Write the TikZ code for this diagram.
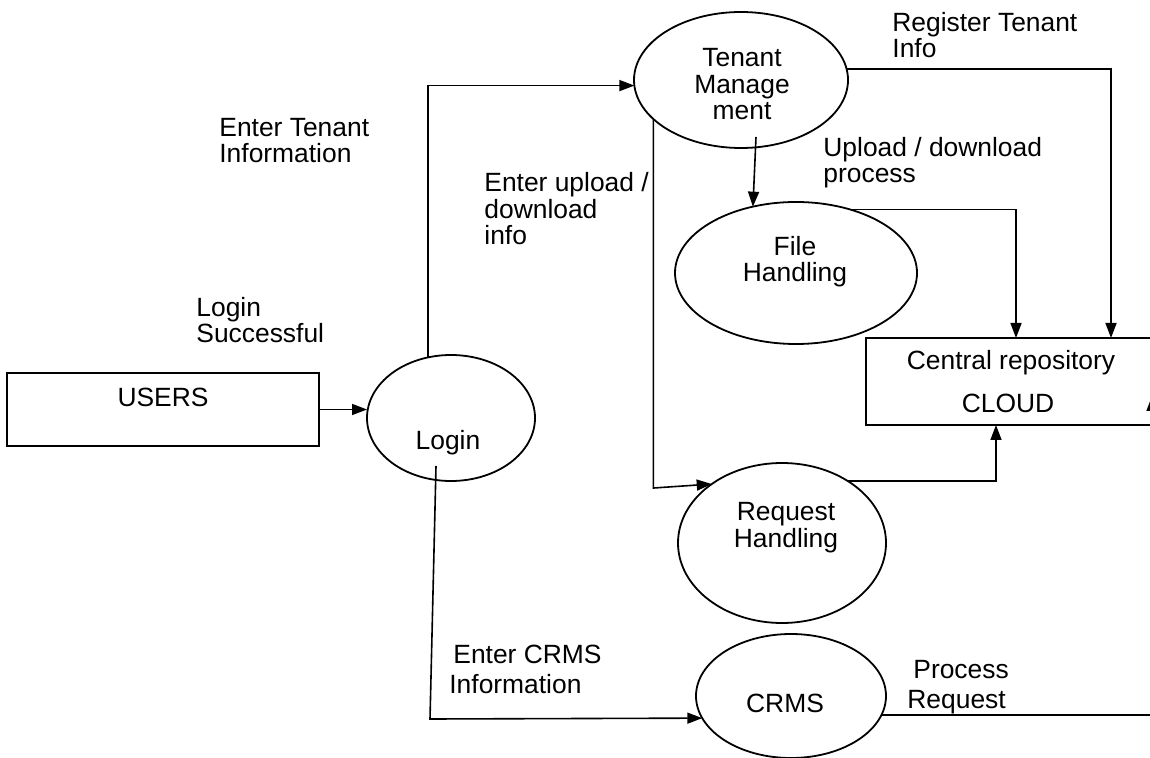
\documentclass[tikz,border=0pt]{standalone}
\usepackage{fontspec}
\setmainfont{Liberation Sans}
\usetikzlibrary{shapes.geometric,arrows.meta}
\begin{document}
\begin{tikzpicture}[x=0.5pt,y=-0.5pt,
  every node/.style={font=\fontsize{13.2}{13.4}\selectfont},
  proc/.style={draw,ellipse,line width=0.9pt,inner sep=0pt,outer sep=0pt},
  store/.style={draw,rectangle,line width=0.9pt,inner sep=0pt,outer sep=0pt},
  lbl/.style={anchor=base west,inner sep=0pt,align=left},
  widelbl/.style={lbl,font=\fontsize{13.2}{15}\selectfont},
  ctr/.style={anchor=base,inner sep=0pt,align=center},
  flow/.style={line width=0.8pt,-{Triangle[length=7.5pt,width=5.5pt]}}]

% page frame
\useasboundingbox (0,0) rectangle (1150,758);
\clip (0,0) rectangle (1150,758);
\fill[white] (0,0) rectangle (1150,758);

% external entity and data store
\node[store,minimum width=156pt,minimum height=36.5pt] (users) at (163,409.5) {};
\node[ctr] (usersT) at (163,407) {USERS};
\node[store,minimum width=152pt,minimum height=43.5pt] (cloud) at (1018,381.5) {};
\node[ctr] (cloudT1) at (1011,370) {Central repository};
\node[ctr] (cloudT2) at (1008,413) {CLOUD};

% processes (multi-line texts are anchored at their last baseline)
\node[proc,minimum width=84pt,minimum height=63pt] (login) at (451,418) {};
\node[ctr] (loginT) at (448,450) {Login};
\node[proc,minimum width=107pt,minimum height=68pt] (tm) at (741,80) {};
\node[ctr] (tmT) at (742,120) {Tenant\\Manage\\ment};
\node[proc,minimum width=121pt,minimum height=71pt] (fh) at (796,273) {};
\node[ctr] (fhT) at (795,282) {File\\Handling};
\node[proc,minimum width=104pt,minimum height=80pt] (rh) at (782,543) {};
\node[ctr] (rhT) at (786,547) {Request\\Handling};
\node[proc,minimum width=95pt,minimum height=62pt] (crms) at (791,696) {};
\node[ctr] (crmsT) at (785,712) {CRMS};

% flow labels
\node[lbl] (lTenant) at (219,163) {Enter Tenant\\Information};
\node[lbl] (lLogin) at (196,343) {Login\\Successful};
\node[lbl] (lUpInfo) at (484,245) {Enter upload /\\download\\info};
\node[lbl] (lRegister) at (892,58) {Register Tenant\\Info};
\node[lbl] (lUpProc) at (823,183) {Upload / download\\process};
\node[widelbl] (lCrms) at (453,693) {Enter CRMS\\\hspace*{-2pt}Information};
\node[widelbl] (lProcess) at (907,708) {\hspace*{3pt}Process\\Request};

% data flows
\draw[flow] (users.east) -- (users.east -| login.west);
\draw[flow] (login.111) |- (tm.183);
\draw[flow] ([xshift=7.5pt,yshift=-28.5pt]tm.center) -- (fh.123);
\draw[flow] (tm.6.5) -| ([xshift=46.5pt]cloud.north);
\draw[flow] (fh.50) -| ([xshift=-1pt]cloud.north);
\draw[flow] (tm.204) -- ++(0,369) -- (rh.140);
\draw[flow] (rh.43) -| ([xshift=-11pt]cloud.south);
\draw[flow] ([xshift=-7.5pt,yshift=-24pt]login.center) -- ++(-6,253) -- (crms.194);
\coordinate (offpage) at (1152,396);
\draw[flow] (crms.-12) -| (offpage);
\end{tikzpicture}
\end{document}
